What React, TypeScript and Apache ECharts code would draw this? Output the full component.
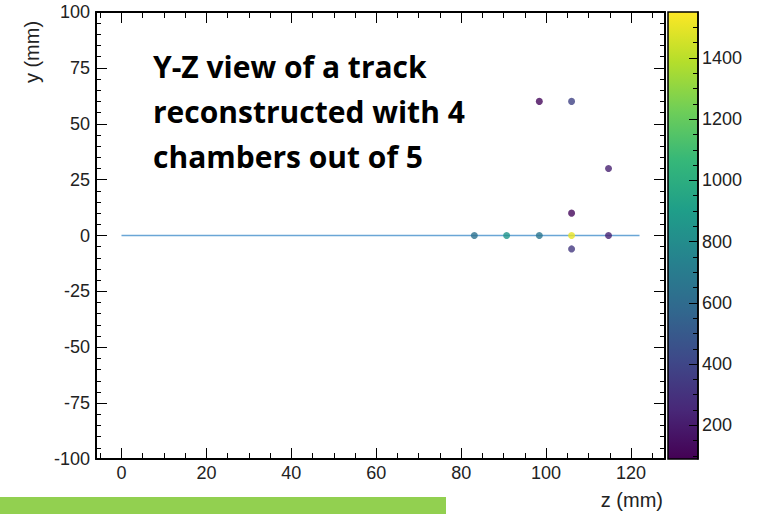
import React, { useEffect, useRef } from "react";
import * as echarts from "echarts";

// Hits in the Y-Z plane: [z (mm), y (mm), charge]
const hitZ = [83.1, 90.7, 98.4, 106.0, 114.7, 98.4, 106.0, 114.7, 106.0, 106.0];
const hitY = [0, 0, 0, 0, 0, 60, 60, 30, 10, -6];
const hitCharge = [640, 850, 660, 1500, 230, 120, 380, 220, 120, 330];

// Fitted track (z from 0 to 122 mm at y = 0)
const trackZ = [0, 122];
const trackY = [0, 0];

// Axis ticks
const zMajor = [0, 20, 40, 60, 80, 100, 120];
const zMinor = [-5, 5, 10, 15, 25, 30, 35, 45, 50, 55, 65, 70, 75, 85, 90, 95, 105, 110, 115, 125];
const chargeMajor = [200, 400, 600, 800, 1000, 1200, 1400];
const chargeMinor = [100, 150, 250, 300, 350, 450, 500, 550, 650, 700, 750, 850, 900, 950, 1050, 1100, 1150, 1250, 1300, 1350, 1450, 1500];

const viridis = [
  "#440154", "#482878", "#3e4989", "#31688e", "#26828e",
  "#1f9e89", "#35b779", "#6ece58", "#b5de2b", "#fde725",
];

const Z_MIN = -6;
const Z_MAX = 128;
const C_MIN = 90;
const C_MAX = 1550;

const GRID = { left: 96, top: 12, width: 569, height: 447 };
const BAR = { left: 668, top: 12, width: 30, height: 447 };

const labelFont = {
  fontFamily: "Liberation Sans, Arial, sans-serif",
  fontSize: 18,
  color: "#222",
};

const plain = (v: number) => String(v);

function zAxis(position: "top" | "bottom", major: boolean, labels: boolean) {
  return {
    type: "value",
    gridIndex: 0,
    position,
    min: Z_MIN,
    max: Z_MAX,
    z: 5,
    axisLine: { show: major, onZero: false, lineStyle: { color: "#000", width: 2 } },
    axisTick: {
      show: true,
      inside: true,
      length: major ? 11 : 6,
      customValues: major ? zMajor : zMinor,
      lineStyle: { color: "#000", width: 1 },
    },
    axisLabel: labels
      ? { show: true, customValues: zMajor, margin: 5, formatter: plain, ...labelFont }
      : { show: false },
    splitLine: { show: false },
  };
}

function yAxis(position: "left" | "right", labels: boolean) {
  return {
    type: "value",
    gridIndex: 0,
    position,
    min: -100,
    max: 100,
    interval: 25,
    z: 5,
    axisLine: { show: true, onZero: false, lineStyle: { color: "#000", width: 2 } },
    axisTick: { show: true, inside: true, length: 11, lineStyle: { color: "#000", width: 1 } },
    minorTick: { show: true, splitNumber: 5, length: 5, lineStyle: { color: "#000", width: 1 } },
    axisLabel: labels ? { show: true, margin: 6, formatter: plain, ...labelFont } : { show: false },
    splitLine: { show: false },
  };
}

function chargeAxis(major: boolean) {
  return {
    type: "value",
    gridIndex: 1,
    position: "right",
    min: C_MIN,
    max: C_MAX,
    z: 5,
    axisLine: { show: major, onZero: false, lineStyle: { color: "#000", width: 1.5 } },
    axisTick: {
      show: true,
      inside: true,
      length: major ? 9 : 5,
      customValues: major ? chargeMajor : chargeMinor,
      lineStyle: { color: "#000", width: 1 },
    },
    axisLabel: major
      ? { show: true, customValues: chargeMajor, margin: 4, formatter: plain, ...labelFont }
      : { show: false },
    splitLine: { show: false },
  };
}

export default function App() {
  const ref = useRef<HTMLDivElement>(null);

  useEffect(() => {
    document.body.style.margin = "0";
    if (!ref.current) return;
    const chart = echarts.init(ref.current, null, { renderer: "svg" });

    const hits = hitZ.map((z, i) => [z, hitY[i], hitCharge[i]]);
    const track = trackZ.map((z, i) => [z, trackY[i]]);

    const gradient = new echarts.graphic.LinearGradient(
      0, 1, 0, 0,
      viridis.map((c, i) => ({ offset: i / (viridis.length - 1), color: c }))
    );

    chart.setOption({
      animation: false,
      backgroundColor: "#fff",
      grid: [
        { ...GRID, containLabel: false },
        { ...BAR, containLabel: false },
      ],
      xAxis: [
        zAxis("bottom", true, true),
        zAxis("bottom", false, false),
        zAxis("top", true, false),
        zAxis("top", false, false),
        { type: "value", gridIndex: 1, min: 0, max: 1, show: false },
      ],
      yAxis: [
        yAxis("left", true),
        yAxis("right", false),
        chargeAxis(true),
        chargeAxis(false),
      ],
      visualMap: {
        show: false,
        type: "continuous",
        seriesIndex: 1,
        dimension: 2,
        min: C_MIN,
        max: C_MAX,
        inRange: { color: viridis },
      },
      series: [
        {
          type: "line",
          xAxisIndex: 0,
          yAxisIndex: 0,
          data: track,
          symbol: "none",
          lineStyle: { color: "#6aa6d6", width: 1.5 },
          z: 2,
        },
        {
          type: "scatter",
          xAxisIndex: 0,
          yAxisIndex: 0,
          data: hits,
          symbolSize: 7,
          z: 3,
        },
        {
          type: "scatter",
          xAxisIndex: 4,
          yAxisIndex: 2,
          data: [],
        },
      ],
      graphic: [
        {
          type: "rect",
          z: 1,
          shape: { x: BAR.left, y: BAR.top, width: BAR.width, height: BAR.height },
          style: { fill: gradient, stroke: "#000", lineWidth: 1.5 },
        },
        {
          type: "text",
          x: 32,
          y: 52,
          rotation: Math.PI / 2,
          style: {
            text: "y (mm)",
            fontFamily: "Liberation Sans, Arial, sans-serif",
            fontSize: 20,
            fill: "#222",
            align: "center",
            verticalAlign: "middle",
          },
        },
        {
          type: "text",
          x: 663,
          y: 500,
          style: {
            text: "z (mm)",
            fontFamily: "Liberation Sans, Arial, sans-serif",
            fontSize: 20,
            fill: "#222",
            align: "right",
            verticalAlign: "middle",
          },
        },
        {
          type: "text",
          x: 153,
          y: 44,
          style: {
            text: "Y-Z view of a track\nreconstructed with 4\nchambers out of 5",
            fontFamily: "Open Sans, sans-serif",
            fontWeight: "bold",
            fontSize: 30,
            lineHeight: 45,
            fill: "#000",
            align: "left",
            verticalAlign: "top",
          },
        },
        {
          type: "rect",
          shape: { x: 0, y: 497, width: 446, height: 17 },
          style: { fill: "#92d050" },
        },
      ],
    });

    return () => chart.dispose();
  }, []);

  return <div ref={ref} style={{ width: 771, height: 514 }} />;
}
